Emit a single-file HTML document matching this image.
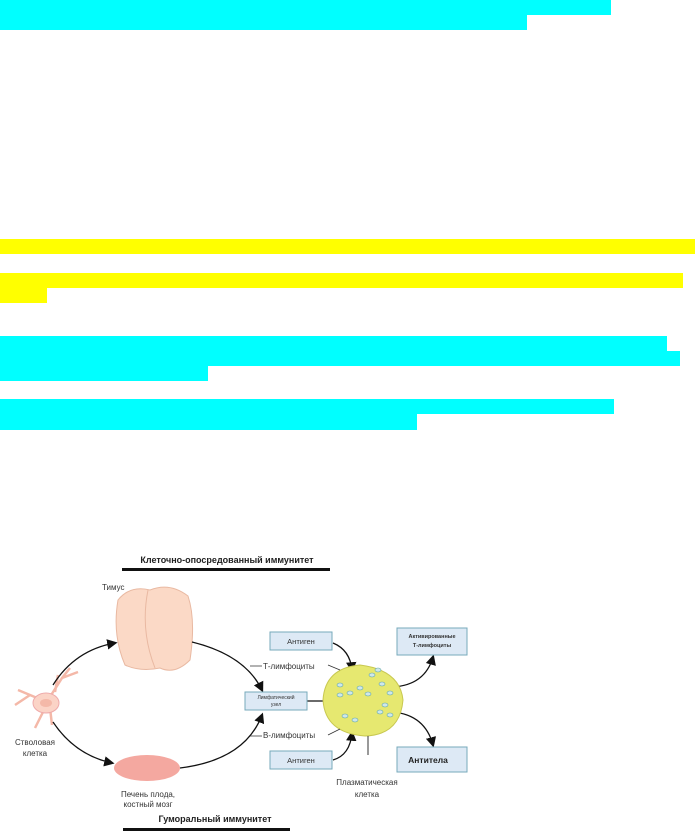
<!DOCTYPE html>
<html><head><meta charset="utf-8"><style>
body{margin:0;width:695px;height:839px;background:#fff;position:relative;overflow:hidden;font-family:"Liberation Sans",sans-serif}
.b{position:absolute;left:0}
.c{background:#00ffff}.y{background:#ffff00}
</style></head><body>
<div class="b c" style="top:0;width:611px;height:15px"></div>
<div class="b c" style="top:15px;width:527px;height:15px"></div>
<div class="b y" style="top:239px;width:695px;height:15px"></div>
<div class="b y" style="top:273px;width:683px;height:15px"></div>
<div class="b y" style="top:288px;width:47px;height:15px"></div>
<div class="b c" style="top:336px;width:667px;height:15px"></div>
<div class="b c" style="top:351px;width:680px;height:15px"></div>
<div class="b c" style="top:366px;width:208px;height:15px"></div>
<div class="b c" style="top:399px;width:614px;height:15px"></div>
<div class="b c" style="top:414px;width:417px;height:16px"></div>
<svg style="position:absolute;left:0;top:540px" width="480" height="299" viewBox="0 540 480 299" font-family="Liberation Sans, sans-serif">
<defs><marker id="a" markerWidth="8" markerHeight="8" refX="6" refY="4" orient="auto"><path d="M0,0L8,4L0,8z" fill="#111"/></marker></defs>
<text x="227" y="563" font-size="9" font-weight="bold" text-anchor="middle" fill="#222">Клеточно-опосредованный иммунитет</text>
<rect x="122" y="568" width="208" height="3" fill="#111"/>
<text x="215" y="822" font-size="9" font-weight="bold" text-anchor="middle" fill="#222">Гуморальный иммунитет</text>
<rect x="123" y="828" width="167" height="3" fill="#111"/>
<text x="102" y="590" font-size="8" fill="#333">Тимус</text>
<path d="M118,600 Q130,585 150,590 Q170,582 188,596 Q196,620 190,660 Q175,675 160,668 Q140,672 125,665 Q112,635 118,600z" fill="#fbd9c6" stroke="#e9b9a2" stroke-width="1"/>
<path d="M148,590 Q140,630 155,668" stroke="#e9b9a2" fill="none"/>
<g stroke="#f4b8a8" stroke-width="2.5" fill="none">
<path d="M48,700 L62,678 L70,668 M62,678 L78,672 M55,692 L58,675 M42,700 L18,690 M30,695 L15,705 M45,708 L35,728 M50,708 L52,725"/>
</g>
<ellipse cx="46" cy="703" rx="13" ry="10" fill="#fbd3c6" stroke="#eaa"/>
<ellipse cx="46" cy="703" rx="6" ry="4" fill="#f4b8a8"/>
<text x="35" y="745" font-size="8" fill="#333" text-anchor="middle">Стволовая</text>
<text x="35" y="756" font-size="8" fill="#333" text-anchor="middle">клетка</text>
<ellipse cx="147" cy="768" rx="33" ry="13" fill="#f4a8a0"/>
<text x="148" y="797" font-size="8" fill="#333" text-anchor="middle">Печень плода,</text>
<text x="148" y="807" font-size="8" fill="#333" text-anchor="middle">костный мозг</text>
<g stroke="#111" stroke-width="1.3" fill="none" marker-end="url(#a)">
<path d="M53,685 Q75,650 115,643"/>
<path d="M192,642 Q245,655 262,690"/>
<path d="M53,722 Q75,755 112,763"/>
<path d="M180,768 Q245,760 262,715"/>
<path d="M307,701 L400,701"/>
<path d="M333,643 Q350,650 352,670"/>
<path d="M333,760 Q350,755 352,733"/>
<path d="M393,687 Q425,685 433,657"/>
<path d="M393,712 Q425,715 433,745"/>
</g>
<path d="M323,700 Q325,668 360,665 Q400,670 403,700 Q400,735 365,736 Q325,733 323,700z" fill="#e6e870" stroke="#c8c850"/>
<g fill="#cfe7ea" stroke="#6aa" stroke-width="0.6">
<ellipse cx="340" cy="685" rx="3" ry="2"/><ellipse cx="350" cy="693" rx="3" ry="2"/><ellipse cx="360" cy="688" rx="3" ry="2"/><ellipse cx="372" cy="675" rx="3" ry="2"/><ellipse cx="382" cy="684" rx="3" ry="2"/><ellipse cx="390" cy="693" rx="3" ry="2"/><ellipse cx="368" cy="694" rx="3" ry="2"/><ellipse cx="345" cy="716" rx="3" ry="2"/><ellipse cx="355" cy="720" rx="3" ry="2"/><ellipse cx="380" cy="712" rx="3" ry="2"/><ellipse cx="390" cy="715" rx="3" ry="2"/><ellipse cx="385" cy="705" rx="3" ry="2"/><ellipse cx="340" cy="695" rx="3" ry="2"/><ellipse cx="378" cy="670" rx="3" ry="2"/>
</g>
<path d="M368,736 L368,755" stroke="#333"/>
<path d="M250,666 L262,666 M328,665 L340,670 M250,736 L262,736 M328,735 L340,729" stroke="#333" stroke-width="0.8"/>
<text x="263" y="669" font-size="8" fill="#333">Т-лимфоциты</text>
<text x="263" y="738" font-size="8" fill="#333">В-лимфоциты</text>
<text x="367" y="785" font-size="8" fill="#333" text-anchor="middle">Плазматическая</text>
<text x="367" y="797" font-size="8" fill="#333" text-anchor="middle">клетка</text>
<g fill="#dde9f5" stroke="#7ab" stroke-width="1">
<rect x="245" y="692" width="62" height="18"/>
<rect x="270" y="632" width="62" height="18"/>
<rect x="270" y="751" width="62" height="18"/>
<rect x="397" y="628" width="70" height="27"/>
<rect x="397" y="747" width="70" height="25"/>
</g>
<text x="276" y="699" font-size="5" fill="#333" text-anchor="middle">Лимфатический</text>
<text x="276" y="706" font-size="5" fill="#333" text-anchor="middle">узел</text>
<text x="301" y="644" font-size="7.5" fill="#333" text-anchor="middle">Антиген</text>
<text x="301" y="763" font-size="7.5" fill="#333" text-anchor="middle">Антиген</text>
<text x="432" y="638" font-size="5.5" font-weight="bold" fill="#333" text-anchor="middle">Активированные</text>
<text x="432" y="647" font-size="5.5" font-weight="bold" fill="#333" text-anchor="middle">Т-лимфоциты</text>
<text x="428" y="763" font-size="8.5" font-weight="bold" fill="#222" text-anchor="middle">Антитела</text>
</svg>
</body></html>
